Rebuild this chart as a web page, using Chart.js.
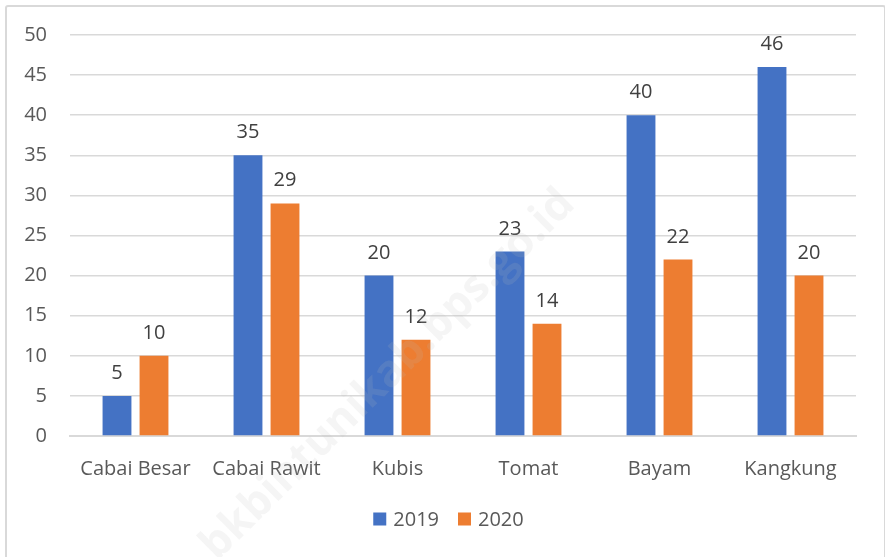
<!DOCTYPE html>
<html>
<head>
<meta charset="utf-8">
<script src="https://cdn.jsdelivr.net/npm/chart.js@4"></script>
<style>
  body { margin: 0; background: #fff; }
  #wrap { position: relative; width: 885px; height: 557px; overflow: hidden; }
  #frame { position: absolute; left: 5px; top: 5px; width: 877px; height: 600px; border: 2px solid #d9d9d9; border-radius: 3px; }
  canvas { position: absolute; left: 0; top: 0; }
</style>
</head>
<body>
<div id="wrap">
  <div id="frame"></div>
  <canvas id="chart" width="885" height="557"></canvas>
</div>
<script>
var categories = ['Cabai Besar', 'Cabai Rawit', 'Kubis', 'Tomat', 'Bayam', 'Kangkung'];
var values2019 = [5, 35, 20, 23, 40, 46];
var values2020 = [10, 29, 12, 14, 22, 20];
var yTicks = [0, 5, 10, 15, 20, 25, 30, 35, 40, 45, 50];

var textColor = '#595959';
var font = '"Open Sans", sans-serif';

// labels above each bar
var barLabels = {
  id: 'barLabels',
  afterDatasetsDraw: function(chart) {
    var ctx = chart.ctx;
    ctx.save();
    ctx.font = '20px ' + font;
    ctx.fillStyle = '#404040';
    ctx.textAlign = 'center';
    ctx.textBaseline = 'alphabetic';
    chart.data.datasets.forEach(function(ds, i) {
      chart.getDatasetMeta(i).data.forEach(function(bar, j) {
        ctx.fillText(ds.data[j], bar.x, bar.y - 17);
      });
    });
    ctx.restore();
  }
};

// legend drawn by hand so the box sits close to its text
var simpleLegend = {
  id: 'simpleLegend',
  afterDraw: function(chart) {
    var ctx = chart.ctx;
    ctx.save();
    ctx.font = '20px ' + font;
    ctx.textBaseline = 'middle';
    var items = chart.data.datasets;
    var box = 13, gap = 7, between = 19;
    var total = 0;
    items.forEach(function(ds, i) {
      total += box + gap + ctx.measureText(ds.label).width + (i < items.length - 1 ? between : 0);
    });
    var x = (chart.width - total) / 2 + 6;
    var y = 519;
    items.forEach(function(ds) {
      ctx.fillStyle = ds.backgroundColor;
      ctx.fillRect(x, y - box / 2, box, box);
      x += box + gap;
      ctx.fillStyle = textColor;
      ctx.fillText(ds.label, x, y + 1);
      x += ctx.measureText(ds.label).width + between;
    });
    ctx.restore();
  }
};

// faint watermark
var watermark = {
  id: 'watermark',
  afterDraw: function(chart) {
    var ctx = chart.ctx;
    ctx.save();
    ctx.translate(388, 375);
    ctx.rotate(-0.78);
    ctx.font = 'bold 44px ' + font;
    ctx.textAlign = 'center';
    ctx.textBaseline = 'middle';
    ctx.fillStyle = 'rgba(190,190,190,0.15)';
    ctx.fillText('bkbintunikab.bps.go.id', 0, 0);
    ctx.restore();
  }
};

new Chart(document.getElementById('chart'), {
  type: 'bar',
  data: {
    labels: categories,
    datasets: [
      { label: '2019', data: values2019, backgroundColor: '#4472C4' },
      { label: '2020', data: values2020, backgroundColor: '#ED7D31' }
    ]
  },
  options: {
    responsive: false,
    animation: false,
    layout: { padding: { top: 34, right: 29, bottom: 56, left: 0 } },
    datasets: { bar: { categoryPercentage: 0.565, barPercentage: 0.78 } },
    plugins: {
      legend: { display: false },
      tooltip: { enabled: false }
    },
    scales: {
      x: {
        grid: { display: false },
        border: { color: '#d9d9d9', width: 2 },
        ticks: { font: { size: 20, family: font }, color: textColor, padding: 13, maxRotation: 0 },
        afterFit: function(s) { s.height = 65; }
      },
      y: {
        min: 0,
        max: 50,
        afterBuildTicks: function(s) { s.ticks = yTicks.map(function(v) { return { value: v }; }); },
        grid: { color: '#d9d9d9', lineWidth: 1.5, drawTicks: false },
        border: { display: false },
        ticks: { font: { size: 20, family: font }, color: textColor, padding: 23 },
        afterFit: function(s) { s.width = 70; }
      }
    }
  },
  plugins: [barLabels, simpleLegend, watermark]
});
</script>
</body>
</html>
